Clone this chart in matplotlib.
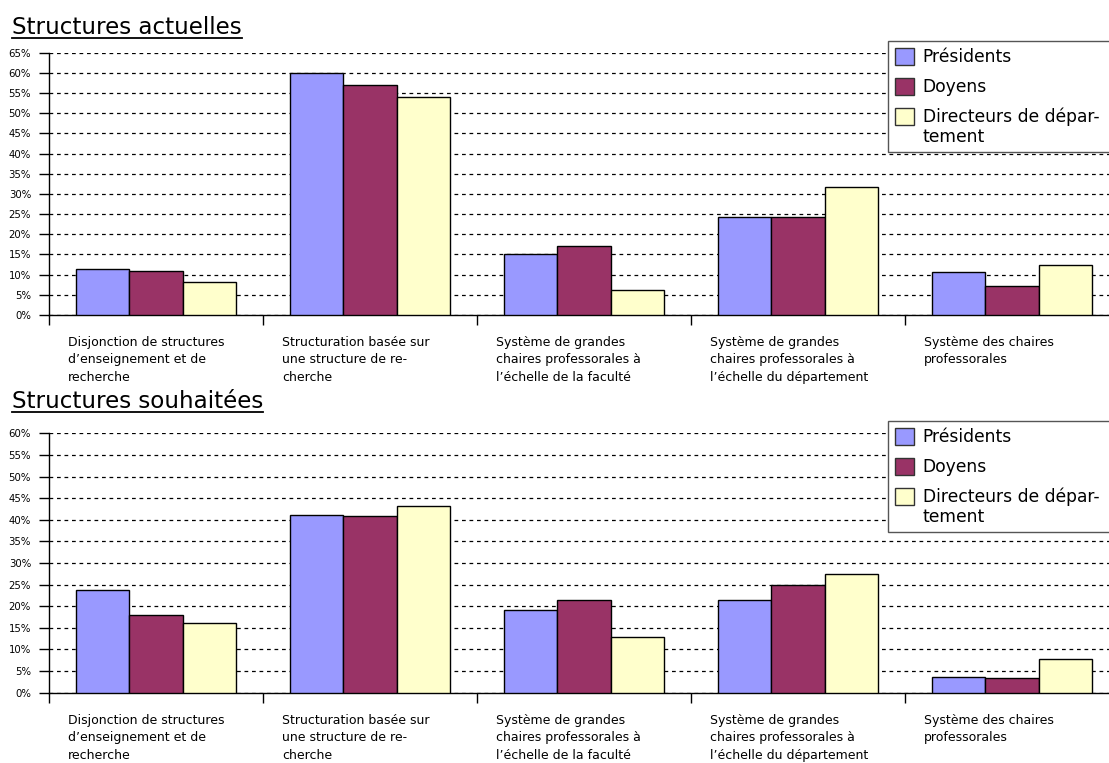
import matplotlib
matplotlib.use("Agg")
import matplotlib.pyplot as plt
from matplotlib.lines import Line2D
from matplotlib.ticker import MultipleLocator, PercentFormatter
import numpy as np

plt.rcParams['font.family'] = ['DejaVu Sans']

categories = [
    "Disjonction de structures\nd\u2019enseignement et de\nrecherche",
    "Structuration basée sur\nune structure de re-\ncherche",
    "Système de grandes\nchaires professorales à\nl\u2019échelle de la faculté",
    "Système de grandes\nchaires professorales à\nl\u2019échelle du département",
    "Système des chaires\nprofessorales",
]
series = ["Présidents", "Doyens", "Directeurs de dépar- \ntement"]
colors = ["#9999FF", "#993366", "#FFFFCC"]

# Structures actuelles (%)
actuelles = {
    "Présidents": [11.5, 60.0, 15.1, 24.4, 10.7],
    "Doyens": [10.8, 57.0, 17.1, 24.2, 7.1],
    "Directeurs": [8.2, 54.0, 6.3, 31.8, 12.3],
}
# Structures souhaitées (%)
souhaitees = {
    "Présidents": [23.8, 41.2, 19.2, 21.5, 3.6],
    "Doyens": [18.0, 40.8, 21.4, 24.9, 3.5],
    "Directeurs": [16.1, 43.1, 12.9, 27.4, 7.9],
}

W, H = 1109, 763
fig = plt.figure(figsize=(W / 100, H / 100), dpi=100)


def px_box(left, top, right, bottom):
    return [left / W, 1 - bottom / H, (right - left) / W, (bottom - top) / H]


def draw_panel(ax, data, ymax, legend_top):
    x = np.arange(len(categories))
    width = 0.25
    bars = []
    for k, (key, col) in enumerate(zip(data, colors)):
        b = ax.bar(x + (k - 1) * width, data[key], width, color=col,
                   edgecolor="black", linewidth=1.0, label=series[k], zorder=3)
        bars.append(b)
    ax.set_xlim(-0.5, len(categories) - 0.5)
    ax.set_ylim(0, ymax)
    ax.yaxis.set_major_locator(MultipleLocator(5))
    ax.yaxis.set_major_formatter(PercentFormatter(decimals=0))
    ax.grid(axis="y", color="black", linestyle=(0, (3, 3)), linewidth=0.9, zorder=0)
    ax.set_axisbelow(True)
    for s in ("top", "right"):
        ax.spines[s].set_visible(False)
    ax.spines["left"].set_linewidth(1.0)
    ax.spines["bottom"].set_linewidth(1.0)
    ax.set_xticks(np.arange(len(categories) + 1) - 0.5)
    ax.set_xticklabels([])
    ax.tick_params(axis="x", direction="out", length=7, width=1)
    ax.tick_params(axis="y", direction="out", length=7, width=1, pad=6, labelsize=7.3)
    for i, lab in enumerate(categories):
        ax.annotate(lab, xy=(i - 0.41, 0), xycoords=("data", "axes fraction"),
                    xytext=(0, -15), textcoords="offset points",
                    ha="left", va="top", fontsize=9, linespacing=1.45)
    leg = fig.legend(bars, series, loc="upper left",
                     bbox_to_anchor=(888 / W, 1 - legend_top / H),
                     bbox_transform=fig.transFigure, fontsize=12.3, frameon=True,
                     fancybox=False, edgecolor="#555555", framealpha=1,
                     handlelength=1.15, handleheight=1.15, labelspacing=0.7,
                     handletextpad=0.47, borderpad=0.4, borderaxespad=0)
    leg.get_frame().set_linewidth(1.0)
    for h in leg.legend_handles:
        h.set_edgecolor("#333333")
    for t in leg.get_texts():
        t.set_linespacing(1.1)
    # keep the swatch level with the first line of a two-line label
    try:
        for col in leg._legend_handle_box.get_children():
            for row in col.get_children():
                row.align = "top"
    except AttributeError:
        pass


def underlined_title(text, x_px, baseline_px):
    t = fig.text(x_px / W, 1 - baseline_px / H, text, fontsize=16.6,
                 ha="left", va="baseline")
    fig.canvas.draw()
    bb = t.get_window_extent()
    y = 1 - (baseline_px + 3.5) / H
    fig.add_artist(Line2D([bb.x0 / W, bb.x1 / W], [y, y], transform=fig.transFigure,
                          color="black", linewidth=1.3))


ax1 = fig.add_axes(px_box(49, 52.7, 1119, 315))
draw_panel(ax1, actuelles, 65, 41)
ax2 = fig.add_axes(px_box(49, 433.3, 1119, 692.7))
draw_panel(ax2, souhaitees, 60, 421)

underlined_title("Structures actuelles", 12, 34)
underlined_title("Structures souhaitées", 12, 408)

fig.savefig("out.png", dpi=100)
